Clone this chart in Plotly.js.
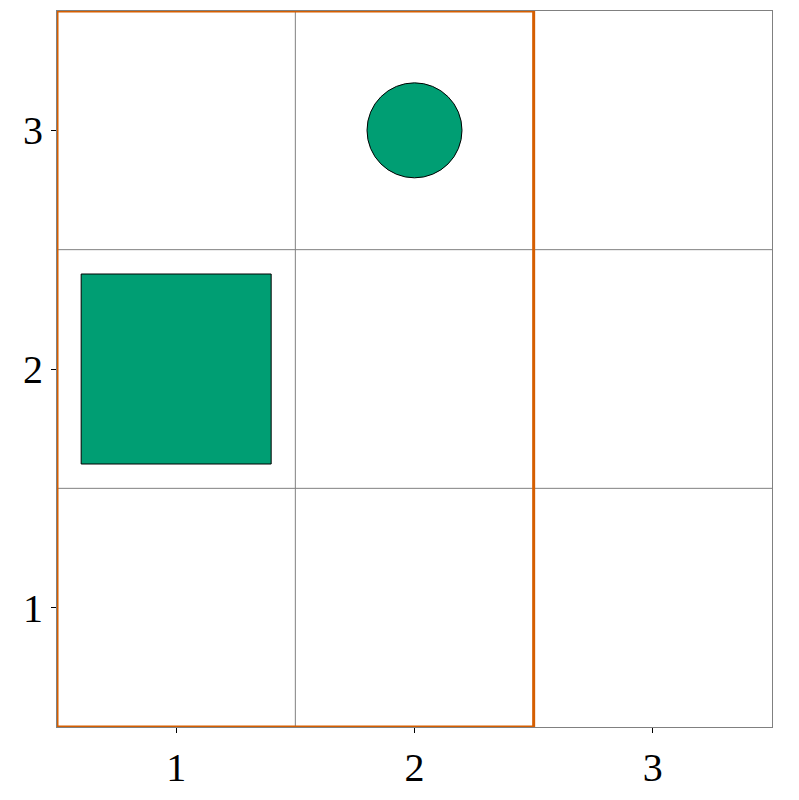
<!DOCTYPE html>
<html>
<head>
<meta charset="utf-8">
<script src="https://cdn.plot.ly/plotly-3.0.1.min.js"></script>
<style>body{margin:0}</style>
</head>
<body>
<div id="plot" style="width:799px;height:800px"></div>
<script>
// grid cells and marks
var ticks = [1, 2, 3];
var squareX = [1], squareY = [2];
var circleX = [2], circleY = [3];
var cellEdges = [1.5, 2.5];
var highlightX = [0.5, 2.5], highlightY = [0.5, 3.5];

var green = '#009e73';
var orange = '#d55e00';

var squareTrace = {
  x: squareX, y: squareY, type: 'scatter', mode: 'markers',
  marker: {symbol: 'square', size: 190, color: green, line: {color: '#000', width: 1}},
  hoverinfo: 'skip'
};
var circleTrace = {
  x: circleX, y: circleY, type: 'scatter', mode: 'markers',
  marker: {symbol: 'circle', size: 95, color: green, line: {color: '#000', width: 1}},
  hoverinfo: 'skip'
};

var shapes = [];
cellEdges.forEach(function(v) {
  shapes.push({type: 'line', xref: 'x', yref: 'paper', x0: v, x1: v, y0: 0, y1: 1,
    line: {color: 'gray', width: 1}, layer: 'below'});
  shapes.push({type: 'line', xref: 'paper', yref: 'y', x0: 0, x1: 1, y0: v, y1: v,
    line: {color: 'gray', width: 1}, layer: 'below'});
});
shapes.push({type: 'rect', xref: 'x', yref: 'y',
  x0: highlightX[0], x1: highlightX[1], y0: highlightY[0], y1: highlightY[1],
  line: {color: orange, width: 3}});

var axisStyle = {
  range: [0.5, 3.5], tickvals: ticks, showgrid: false, zeroline: false,
  showline: true, mirror: true, linecolor: 'gray', linewidth: 1,
  ticks: 'outside', ticklen: 5, tickcolor: 'black',
  tickfont: {family: 'Liberation Serif, DejaVu Serif, serif', size: 40, color: 'black'}
};

var layout = {
  width: 799, height: 800,
  margin: {l: 57, r: 27, t: 11, b: 73},
  xaxis: Object.assign({}, axisStyle),
  yaxis: Object.assign({}, axisStyle),
  shapes: shapes,
  showlegend: false,
  plot_bgcolor: 'white', paper_bgcolor: 'white'
};

Plotly.newPlot('plot', [squareTrace, circleTrace], layout, {displayModeBar: false});
</script>
</body>
</html>
